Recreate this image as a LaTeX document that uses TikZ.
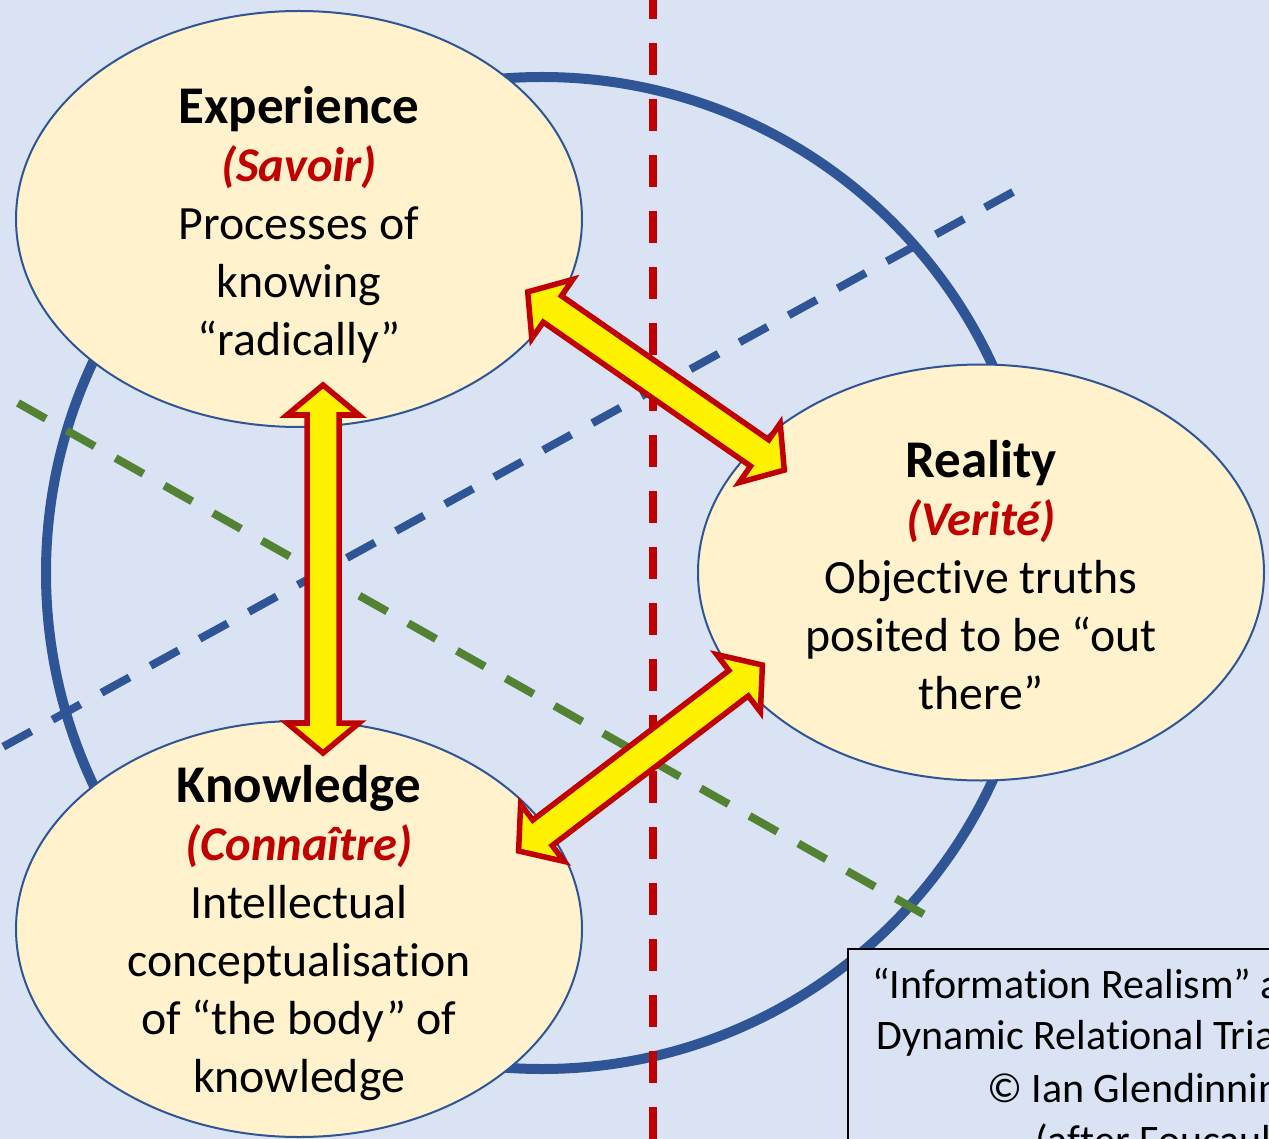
\documentclass[tikz,border=0pt]{standalone}
\usepackage{fontspec}
\setmainfont{Carlito}[Ligatures=NoCommon]
\usetikzlibrary{calc,shapes.geometric}
\definecolor{bg}{HTML}{DAE3F3}
\definecolor{ellfill}{HTML}{FFF2CC}
\definecolor{navy}{HTML}{2F5597}
\definecolor{darkred}{HTML}{C00000}
\definecolor{leaf}{HTML}{548235}
\newcommand\fr[1]{{\fontsize{48.5}{58}\selectfont\textcolor{darkred}{\textbf{\textit{#1}}}}}
\newcommand\hd[1]{{\fontsize{53}{58}\selectfont\textbf{#1}}}
\newcommand\dblarrow[2]{%
  \coordinate (h1) at ($(#1)!30pt!(#2)$);
  \coordinate (h2) at ($(#2)!30pt!(#1)$);
  \draw[arr] (#1) -- ($(h1)!36pt!90:(#2)$) -- ($(h1)!16pt!90:(#2)$)
    -- ($(h2)!16pt!-90:(#1)$) -- ($(h2)!36pt!-90:(#1)$) -- (#2)
    -- ($(h2)!36pt!90:(#1)$) -- ($(h2)!16pt!90:(#1)$)
    -- ($(h1)!16pt!-90:(#2)$) -- ($(h1)!36pt!-90:(#2)$) -- cycle;}
\begin{document}
\begin{tikzpicture}[x=1pt,y=-1pt,
  ell/.style={ellipse, draw=navy, line width=2pt, fill=ellfill,
    minimum width=566pt, minimum height=416pt, inner sep=0pt},
  maintxt/.style={align=center, inner sep=0pt,
    font=\fontsize{47.8}{58}\selectfont},
  boxtxt/.style={anchor=base west, inner sep=0pt,
    font=\fontsize{42}{52}\selectfont},
  dashline/.style={line width=8pt, dash pattern=on 32pt off 24pt},
  arr/.style={draw=darkred, fill=yellow, line width=5.5pt, line join=miter}]
\useasboundingbox (0,0) rectangle (1269,1139);
\clip (0,0) rectangle (1269,1139);
\fill[bg] (-5,-5) rectangle (1280,1150);
% big circle
\node[circle, draw=navy, line width=10pt, minimum size=992pt, inner sep=0pt] (ring) at (542,573) {};
% dashed axes
\coordinate (bA) at (1013,192); \coordinate (bB) at (-10,754);
\coordinate (gA) at (18,403);   \coordinate (gB) at (925,915);
\coordinate (rA) at (653,-13);  \coordinate (rB) at (653,1160);
\draw[dashline, navy] (bA) -- (bB);
\draw[dashline, leaf] (gA) -- (gB);
\draw[dashline, darkred] (rA) -- (rB);
% ellipses
\node[ell] (exp) at (299,219) {};
\node[ell] (real) at (981,572.5) {};
\node[ell] (know) at (299,929) {};
% arrows
\coordinate (v1) at (323,385);     \coordinate (v2) at (323,753);
\coordinate (d1) at (527.7,291.9); \coordinate (d2) at (784.3,470.1);
\coordinate (e1) at (518.6,851);   \coordinate (e2) at (762.4,665);
\dblarrow{v1}{v2}
\dblarrow{d1}{d2}
\dblarrow{e1}{e2}
% texts
\node[maintxt] (exptext) at (299,225) {\hd{Experience}\\\fr{(Savoir)}\\Processes of\\knowing\\“radically”};
\node[maintxt] (realtext) at (981,575) {\hd{Reality}\\\fr{(Verité)}\\Objective truths\\posited to be “out\\there”};
\node[maintxt] (knowtext) at (299,933.5) {\hd{Knowledge}\\\fr{(Connaître)}\\Intellectual\\conceptualisation\\of “the body” of\\knowledge};
% caption box
\node[draw=black, line width=1.5pt, fill=bg, anchor=north west, minimum width=460pt, minimum height=240pt, inner sep=0pt] (box) at (847,948) {};
\node[boxtxt] (cap1) at (872,998) {“Information Realism” as};
\node[boxtxt] (cap2) at (876,1049) {Dynamic Relational Triad};
\node[boxtxt] (cap3) at (987,1102) {© Ian Glendinning};
\node[boxtxt] (cap4) at (1035,1154) {(after Foucault)};
\end{tikzpicture}
\end{document}
